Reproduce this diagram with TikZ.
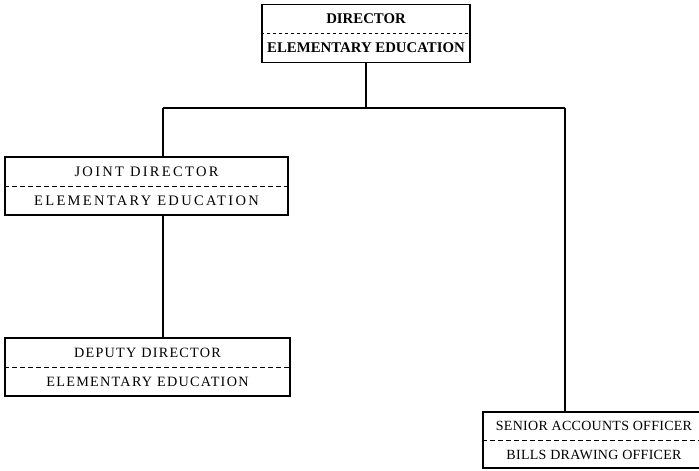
\documentclass[tikz,border=0pt]{standalone}
\usepackage{fontspec}
\setmainfont{Liberation Serif}
\newfontfamily\postfont[LetterSpace=2]{Liberation Serif}
\newfontfamily\widefont[LetterSpace=9]{Liberation Serif}
\newfontfamily\widerfont[LetterSpace=16]{Liberation Serif}
\usetikzlibrary{positioning}

\begin{document}
\begin{tikzpicture}[
		x=1pt, y=-1pt,
		post/.style	={ draw, line width=1.2pt, rectangle, align=center,
			inner sep=0pt, minimum height=58pt,
			font=\postfont\fontsize{14}{29}\selectfont,
		},
		divider/.style	={ line width=1pt, dashed, dash pattern=on 5pt off 3pt },
		link/.style	={ line width=1.2pt },
	]

	\useasboundingbox (0,0) rectangle (699,471);

	% draw posts
	\node [post, minimum width=208pt, font=\bfseries\fontsize{14.8}{29}\selectfont]
		(director) at (366,33.5) {DIRECTOR\\ELEMENTARY EDUCATION};
	\node [post, minimum width=283pt, font=\widerfont\fontsize{14.5}{29}\selectfont]
		(joint) at (146.5,186) {JOINT DIRECTOR\\ELEMENTARY EDUCATION};
	\node [post, minimum width=285pt, font=\widefont\fontsize{14.2}{29}\selectfont]
		(deputy) at (147.5,367) {DEPUTY DIRECTOR\\ELEMENTARY EDUCATION};
	\node [post, minimum width=222pt, minimum height=56pt] (senior) at (594,440)
		{SENIOR ACCOUNTS OFFICER\\BILLS DRAWING OFFICER};

	% draw dividers
	\draw [divider, dash pattern=on 3pt off 3pt] (director.west) -- (director.east);
	\foreach \n in {joint, deputy, senior}
		\draw [divider] (\n.west) -- (\n.east);

	% draw links
	\coordinate (busL) at (163,108);
	\coordinate (busR) at (565,108);
	\draw [link] (director.south) -- (director.south |- busL);
	\draw [link] (busL) -- (busR);
	\draw [link] (busL) -- (busL |- joint.north);
	\draw [link] (joint.south -| busL) -- (deputy.north -| busL);
	\draw [link] (busR) -- (busR |- senior.north);

\end{tikzpicture}
\end{document}
